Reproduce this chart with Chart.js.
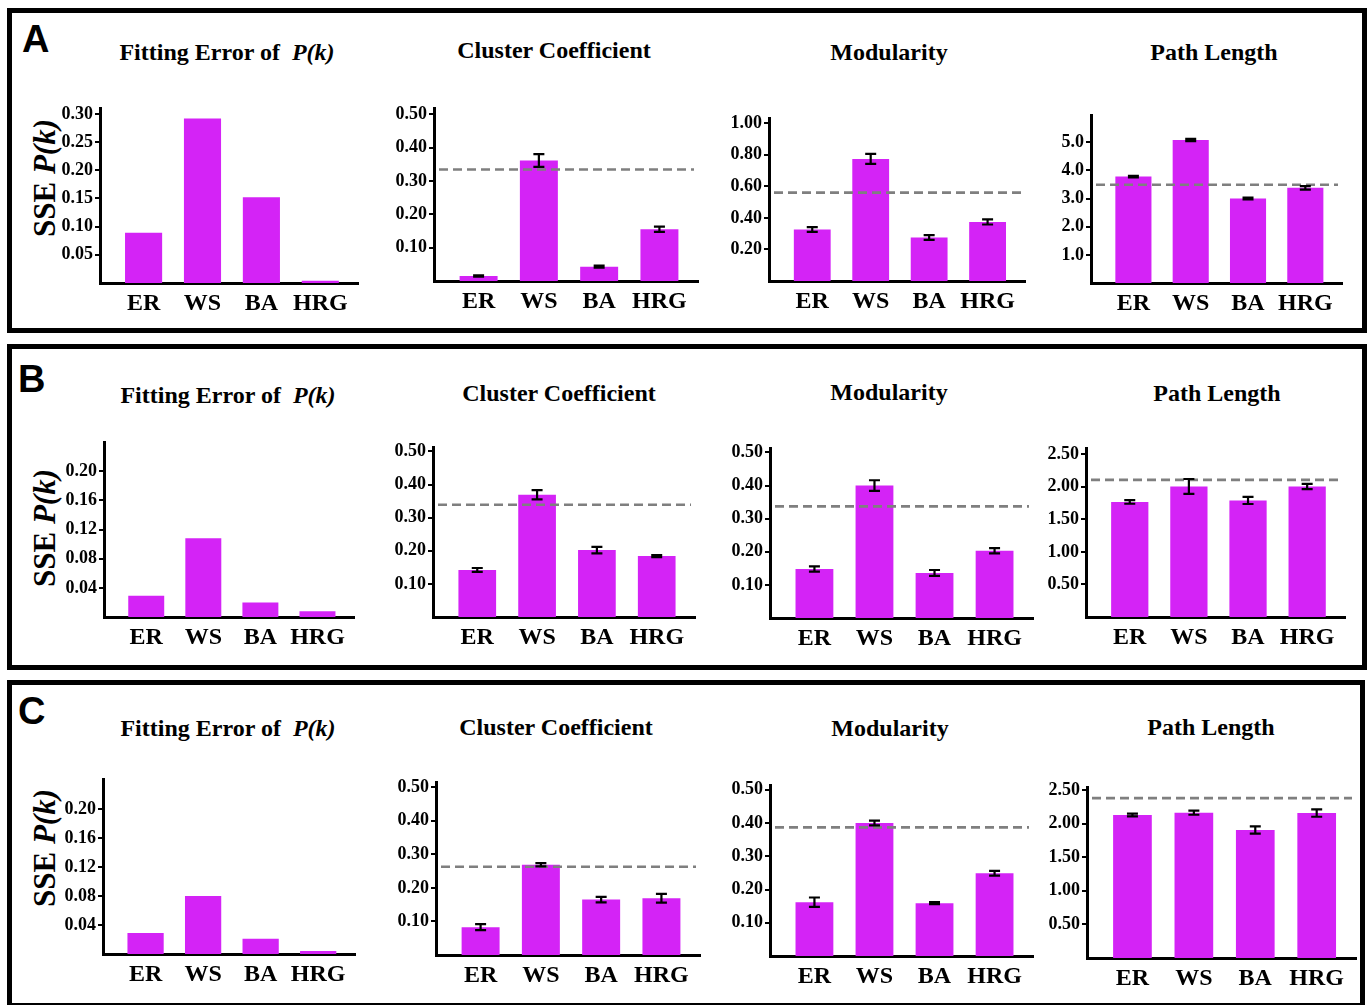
<!DOCTYPE html>
<html>
<head>
<meta charset="utf-8">
<script src="https://cdn.jsdelivr.net/npm/chart.js@4.4.1/dist/chart.umd.min.js"></script>
<style>
  html, body { margin: 0; padding: 0; background: #fff; }
  body { width: 1368px; height: 1005px; position: relative; overflow: hidden;
         font-family: "Liberation Serif", "Times New Roman", serif; color: #000; }
  .box { position: absolute; border: 5px solid #000; box-sizing: border-box; }
  .tag { position: absolute; font: bold 38px "Liberation Sans", Arial, sans-serif; line-height: 1; }
  .ttl { position: absolute; font-weight: bold; font-size: 24px; line-height: 1; white-space: nowrap;
         transform: translate(-50%, -50%); }
  .ytl { position: absolute; font-weight: bold; font-size: 31px; line-height: 1; white-space: nowrap;
         transform: translate(-50%, -50%) rotate(-90deg); }
  canvas { position: absolute; }
</style>
</head>
<body>

<div class="box" style="left:7px;top:8px;width:1360px;height:325px;"></div>
<div class="box" style="left:7px;top:344px;width:1360px;height:326px;"></div>
<div class="box" style="left:7px;top:680px;width:1358px;height:328px;"></div>

<div class="tag" style="left:22px;top:20px;">A</div>
<div class="tag" style="left:18px;top:360px;">B</div>
<div class="tag" style="left:18px;top:692px;">C</div>

<div id="stage"></div>

<script>
// Network models compared in every panel
const categories = ['ER', 'WS', 'BA', 'HRG'];

// Row A
const sseA      = [0.089, 0.292, 0.152, 0.004];
const clusterA  = [0.015, 0.361, 0.043, 0.155];
const clusterErrA = [0.002, 0.019, 0.003, 0.008];
const clusterRefA = 0.334;
const modA      = [0.326, 0.774, 0.276, 0.374];
const modErrA   = [0.015, 0.032, 0.015, 0.016];
const modRefA   = 0.560;
const pathA     = [3.78, 5.08, 3.00, 3.38];
const pathErrA  = [0.03, 0.04, 0.03, 0.06];
const pathRefA  = 3.49;

// Row B
const sseB      = [0.029, 0.108, 0.020, 0.008];
const clusterB  = [0.142, 0.369, 0.202, 0.184];
const clusterErrB = [0.006, 0.014, 0.010, 0.003];
const clusterRefB = 0.339;
const modB      = [0.148, 0.400, 0.136, 0.203];
const modErrB   = [0.008, 0.016, 0.009, 0.008];
const modRefB   = 0.337;
const pathB     = [1.768, 2.005, 1.790, 2.005];
const pathErrB  = [0.028, 0.115, 0.054, 0.040];
const pathRefB  = 2.106;

// Row C
const sseC      = [0.029, 0.080, 0.021, 0.004];
const clusterC  = [0.083, 0.269, 0.165, 0.169];
const clusterErrC = [0.009, 0.005, 0.008, 0.013];
const clusterRefC = 0.263;
const modC      = [0.162, 0.400, 0.159, 0.249];
const modErrC   = [0.014, 0.007, 0.003, 0.007];
const modRefC   = 0.387;
const pathC     = [2.128, 2.162, 1.905, 2.157];
const pathErrC  = [0.020, 0.030, 0.055, 0.055];
const pathRefC  = 2.38;

// Tick labels on the value axes
const ticksSseA   = [0.05, 0.10, 0.15, 0.20, 0.25, 0.30];
const ticksSseBC  = [0.04, 0.08, 0.12, 0.16, 0.20];
const ticksTenths = [0.10, 0.20, 0.30, 0.40, 0.50];
const ticksModA   = [0.20, 0.40, 0.60, 0.80, 1.00];
const ticksPathA  = [1.0, 2.0, 3.0, 4.0, 5.0];
const ticksPathBC = [0.50, 1.00, 1.50, 2.00, 2.50];

const TITLE_FIT = 'Fitting Error of&nbsp; <i>P(k)</i>';
const Y_TITLE = 'SSE <i>P(k)</i>';

// Plot frames: plot-area edges in page pixels, value-axis maximum,
// and title centre.
const panels = [
  // row A
  { values: sseA, ticks: ticksSseA, dec: 2, yMax: 0.309, L: 100, T: 108, B: 283, R: 358,
    title: TITLE_FIT, tx: 227, ty: 52, yTitle: 178 },
  { values: clusterA, err: clusterErrA, ref: clusterRefA, ticks: ticksTenths, dec: 2, yMax: 0.516,
    L: 434, T: 108, B: 281, R: 698, title: 'Cluster Coefficient', tx: 554, ty: 50 },
  { values: modA, err: modErrA, ref: modRefA, ticks: ticksModA, dec: 2, yMax: 1.028,
    L: 769, T: 118, B: 281, R: 1025, title: 'Modularity', tx: 889, ty: 52 },
  { values: pathA, err: pathErrA, ref: pathRefA, ticks: ticksPathA, dec: 1, yMax: 5.94,
    L: 1091, T: 115, B: 283, R: 1342, title: 'Path Length', tx: 1214, ty: 52 },
  // row B
  { values: sseB, ticks: ticksSseBC, dec: 2, yMax: 0.239, L: 104, T: 442, B: 616.5, R: 354,
    title: TITLE_FIT, tx: 228, ty: 395, yTitle: 528 },
  { values: clusterB, err: clusterErrB, ref: clusterRefB, ticks: ticksTenths, dec: 2, yMax: 0.511,
    L: 433, T: 447, B: 616.5, R: 695, title: 'Cluster Coefficient', tx: 559, ty: 393 },
  { values: modB, err: modErrB, ref: modRefB, ticks: ticksTenths, dec: 2, yMax: 0.511,
    L: 770, T: 447.5, B: 617, R: 1033, title: 'Modularity', tx: 889, ty: 392 },
  { values: pathB, err: pathErrB, ref: pathRefB, ticks: ticksPathBC, dec: 2, yMax: 2.584,
    L: 1086, T: 447.5, B: 616, R: 1345, title: 'Path Length', tx: 1217, ty: 393 },
  // row C
  { values: sseC, ticks: ticksSseBC, dec: 2, yMax: 0.2407, L: 103, T: 778.5, B: 953, R: 355,
    title: TITLE_FIT, tx: 228, ty: 728, yTitle: 848 },
  { values: clusterC, err: clusterErrC, ref: clusterRefC, ticks: ticksTenths, dec: 2, yMax: 0.513,
    L: 436, T: 782, B: 954.5, R: 700, title: 'Cluster Coefficient', tx: 556, ty: 727 },
  { values: modC, err: modErrC, ref: modRefC, ticks: ticksTenths, dec: 2, yMax: 0.512,
    L: 770, T: 785, B: 955.5, R: 1033, title: 'Modularity', tx: 890, ty: 728 },
  { values: pathC, err: pathErrC, ref: pathRefC, ticks: ticksPathBC, dec: 2, yMax: 2.533,
    L: 1087, T: 787, B: 957.5, R: 1356, title: 'Path Length', tx: 1211, ty: 727 }
];

const BAR_COLOR = '#d423f6';
const SERIF = '"Liberation Serif", "Times New Roman", serif';
const PAD_LEFT = 72, PAD_TOP = 12, PAD_RIGHT = 12, PAD_BOTTOM = 50;

// Dashed reference level and mean +/- error whiskers
const markPlugin = {
  id: 'marks',
  afterDatasetsDraw(chart, args, opts) {
    const { ctx, chartArea } = chart;
    const xs = chart.scales.x, ys = chart.scales.y;
    if (opts.ref != null) {
      const y = ys.getPixelForValue(opts.ref);
      ctx.save();
      ctx.strokeStyle = '#7f7f7f';
      ctx.lineWidth = 2.6;
      ctx.setLineDash([9, 5]);
      ctx.beginPath();
      ctx.moveTo(chartArea.left + 5, y);
      ctx.lineTo(chartArea.right - 4, y);
      ctx.stroke();
      ctx.restore();
    }
    if (opts.err) {
      const vals = chart.data.datasets[0].data;
      ctx.save();
      ctx.strokeStyle = '#000';
      ctx.lineWidth = 2.2;
      vals.forEach((p, i) => {
        const e = opts.err[i];
        const x = xs.getPixelForValue(p.x);
        const y1 = ys.getPixelForValue(p.y + e);
        const y2 = ys.getPixelForValue(p.y - e);
        ctx.beginPath();
        ctx.moveTo(x, y1); ctx.lineTo(x, y2);
        ctx.moveTo(x - 5.5, y1); ctx.lineTo(x + 5.5, y1);
        ctx.moveTo(x - 5.5, y2); ctx.lineTo(x + 5.5, y2);
        ctx.stroke();
      });
      ctx.restore();
    }
  }
};

const stage = document.getElementById('stage');

panels.forEach(p => {
  // title
  const t = document.createElement('div');
  t.className = 'ttl';
  t.style.left = p.tx + 'px';
  t.style.top = p.ty + 'px';
  t.innerHTML = p.title;
  stage.appendChild(t);

  if (p.yTitle) {
    const yt = document.createElement('div');
    yt.className = 'ytl';
    yt.style.left = '44px';
    yt.style.top = p.yTitle + 'px';
    yt.innerHTML = Y_TITLE;
    stage.appendChild(yt);
  }

  const cv = document.createElement('canvas');
  const w = Math.round(p.R - p.L + PAD_LEFT + PAD_RIGHT);
  const h = Math.round(p.B - p.T + PAD_TOP + PAD_BOTTOM);
  cv.width = w; cv.height = h;
  cv.style.width = w + 'px'; cv.style.height = h + 'px';
  cv.style.left = (p.L - PAD_LEFT) + 'px';
  cv.style.top = (p.T - PAD_TOP) + 'px';
  stage.appendChild(cv);

  new Chart(cv, {
    type: 'bar',
    data: {
      datasets: [{
        data: p.values.map((v, i) => ({ x: i, y: v })),
        backgroundColor: BAR_COLOR,
        borderWidth: 0,
        barPercentage: 0.63,
        categoryPercentage: 1
      }]
    },
    options: {
      responsive: false,
      animation: false,
      devicePixelRatio: 1,
      layout: { padding: { left: 0, top: PAD_TOP, right: PAD_RIGHT, bottom: 0 } },
      plugins: {
        legend: { display: false },
        tooltip: { enabled: false },
        marks: { err: p.err || null, ref: p.ref == null ? null : p.ref }
      },
      scales: {
        x: {
          type: 'linear',
          offset: false,
          min: -0.74,
          max: 3.64,
          afterFit: s => { s.height = PAD_BOTTOM; },
          afterBuildTicks: s => { s.ticks = categories.map((c, i) => ({ value: i })); },
          grid: { display: false, drawTicks: false, offset: false },
          border: { display: true, color: '#000', width: 3 },
          ticks: {
            autoSkip: false, maxRotation: 0, padding: 6, color: '#000',
            font: { family: SERIF, weight: 'bold', size: 24 },
            callback: v => categories[v]
          }
        },
        y: {
          min: 0,
          max: p.yMax,
          afterFit: s => { s.width = PAD_LEFT; },
          afterBuildTicks: s => { s.ticks = p.ticks.map(v => ({ value: v })); },
          grid: { drawOnChartArea: false, drawTicks: true, tickLength: 5, color: '#000', lineWidth: 2 },
          border: { display: true, color: '#000', width: 3 },
          ticks: {
            padding: 2, color: '#000',
            font: { family: SERIF, weight: 'bold', size: 18 },
            callback: v => Number(v).toFixed(p.dec)
          }
        }
      }
    },
    plugins: [markPlugin]
  });
});
</script>
</body>
</html>
